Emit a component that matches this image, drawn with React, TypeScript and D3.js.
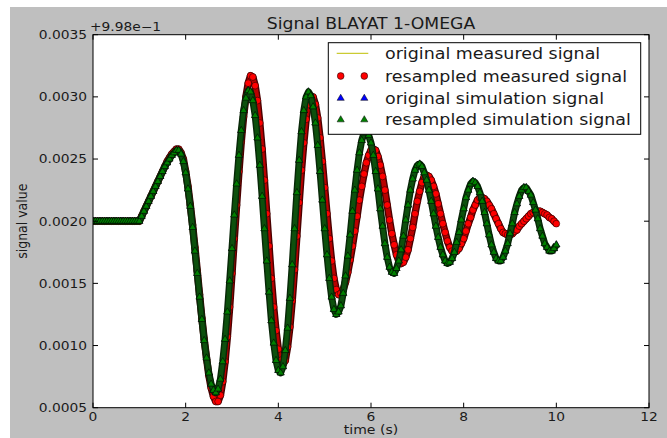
import * as d3 from 'd3';

// resampling grid of the signals (s)
const T_START = 0;
const T_STEP = 0.05;

// signal value minus offset 0.998, in units of 1e-5
const measuredE5 = [
  200, 200, 200, 200, 200, 200, 200, 200, 200, 200, 200, 200, 200, 200, 200, 200, 200, 200, 200, 200, 200,
  204, 208, 212, 216, 220, 224, 228, 232, 236, 240, 244, 248, 251, 254, 256, 258, 258,
  255, 250, 240, 228, 213, 197, 179, 160, 141, 122, 105, 90, 76, 66, 59, 55,
  55, 60, 71, 87, 107, 131, 158, 186, 213, 240, 264, 284, 300, 311, 317,
  316, 309, 297, 279, 258, 233, 206, 180, 154, 131, 112, 97, 88, 85,
  88, 99, 115, 136, 161, 188, 215, 241, 263, 282, 294, 300,
  300, 294, 283, 267, 248, 227, 206, 186, 168, 154, 145, 141,
  142, 145, 151, 159, 169, 180, 192, 204, 217, 228, 238, 247, 253, 257, 258,
  257, 252, 245, 236, 225, 213, 201, 190, 181, 173, 168, 166,
  167, 171, 177, 186, 195, 206, 216, 224, 231, 236, 237,
  236, 233, 228, 222, 214, 206, 198, 191, 184, 179, 176, 175,
  176, 178, 182, 186, 192, 198, 203, 209, 213, 217, 219, 219,
  218, 216, 213, 210, 206, 202, 198, 194, 191, 190, 189,
  189, 190, 192, 193, 196, 198, 200, 202, 204, 206, 207, 208, 208,
  208, 207, 206, 205, 203, 202, 200, 198,
];

const simulationE5 = [
  200, 200, 200, 200, 200, 200, 200, 200, 200, 200, 200, 200, 200, 200, 200, 200, 200, 200, 200, 200, 200,
  204, 208, 212, 216, 220, 224, 228, 232, 236, 240, 244, 247, 250, 253, 255, 257, 257,
  254, 248, 239, 226, 212, 195, 176, 158, 139, 121, 104, 90, 78, 69, 64, 62,
  65, 73, 87, 105, 127, 152, 178, 205, 230, 253, 273, 289, 299, 305,
  304, 297, 285, 267, 245, 220, 194, 168, 143, 120, 102, 88, 80,
  78, 83, 96, 114, 138, 165, 194, 223, 249, 272, 289, 300, 304,
  301, 292, 279, 261, 240, 217, 194, 173, 154, 139, 129, 125,
  127, 132, 142, 156, 172, 189, 208, 225, 241, 255, 265, 271,
  272, 269, 263, 253, 240, 226, 210, 196, 182, 171, 163, 159,
  158, 162, 168, 177, 188, 201, 213, 225, 234, 241, 245,
  246, 244, 239, 233, 225, 216, 206, 196, 187, 179, 173, 168, 166,
  167, 170, 175, 183, 191, 201, 210, 219, 225, 230, 232,
  231, 228, 223, 216, 207, 198, 189, 181, 175, 170, 168,
  168, 171, 176, 182, 190, 198, 207, 214, 220, 225, 227,
  227, 224, 221, 215, 209, 202, 194, 188, 182, 179, 176, 176, 178, 181,
];

const measured = measuredE5.map((v) => v / 1e5);
const simulation = simulationE5.map((v) => v / 1e5);
const time = measured.map((_, i) => T_START + i * T_STEP);

const xTicks = [0, 2, 4, 6, 8, 10, 12];
const yTicks = [0.0005, 0.001, 0.0015, 0.002, 0.0025, 0.003, 0.0035];
const yTickLabels = ['0.0005', '0.0010', '0.0015', '0.0020', '0.0025', '0.0030', '0.0035'];
const legendLabels = [
  'original measured signal',
  'resampled measured signal',
  'original simulation signal',
  'resampled simulation signal',
];

const W = 667;
const H = 438;
const SX = 1.15; // picture is stretched horizontally
const FONT = 'DejaVu Sans, sans-serif';
const TXT = '#1a1a1a';

export default function App() {
  const x = d3.scaleLinear().domain([0, 12]).range([93, 649]);
  const y = d3.scaleLinear().domain([0.0005, 0.0035]).range([407.7, 34.7]);
  const [x0, x1] = x.range();
  const [y0, y1] = y.range();

  const line = d3
    .line<number>()
    .x((_, i) => x(time[i]))
    .y((d) => y(d));
  const tri = d3.symbol().type(d3.symbolTriangle).size(22)() ?? '';

  const txt = (tx: number, ty: number, extra = '') => `translate(${tx},${ty}) scale(${SX},1)${extra}`;

  // legend
  const lg = { x: 328.3, y: 42.7, w: 312.4, h: 91.6 };
  const rowY = [53.3, 76, 98.3, 119.8];
  const h1 = 340.7;
  const h2 = 364.3;

  return (
    <svg width={W} height={H} style={{ position: 'absolute', left: 0, top: 0 }} fontFamily={FONT}>
      <defs>
        <clipPath id="plot">
          <rect x={x0} y={y1} width={x1 - x0} height={y0 - y1} />
        </clipPath>
      </defs>
      <rect x={0} y={0} width={W} height={H} fill="#fff" />
      <rect x={10} y={7} width={W - 10} height={H - 7} fill="#bfbfbf" />
      <rect x={x0} y={y1} width={x1 - x0} height={y0 - y1} fill="#fff" />

      <g clipPath="url(#plot)">
        {/* original measured signal */}
        <path d={line(measured) ?? ''} fill="none" stroke="#bfbf00" strokeWidth={1} />
        {/* resampled measured signal */}
        <path d={line(measured) ?? ''} fill="none" stroke="#4a0000" strokeWidth={7.4} strokeLinejoin="round" />
        <path d={line(measured) ?? ''} fill="none" stroke="#b80000" strokeWidth={4.6} strokeLinejoin="round" />
        {measured.map((v, i) => (
          <circle key={'m' + i} cx={x(time[i])} cy={y(v)} r={3.4} fill="#ff0000" stroke="#000" strokeWidth={0.5} />
        ))}
        {/* original simulation signal */}
        {simulation.map((v, i) => (
          <path key={'o' + i} d={tri} transform={`translate(${x(time[i])},${y(v)})`} fill="#0000ff" stroke="#000" strokeWidth={0.5} />
        ))}
        {/* resampled simulation signal */}
        <path d={line(simulation) ?? ''} fill="none" stroke="#082808" strokeWidth={7} strokeLinejoin="round" />
        <path d={line(simulation) ?? ''} fill="none" stroke="#0d500d" strokeWidth={4.2} strokeLinejoin="round" />
        {simulation.map((v, i) => (
          <path key={'s' + i} d={tri} transform={`translate(${x(time[i])},${y(v)})`} fill="#008000" stroke="#000" strokeWidth={0.6} />
        ))}
      </g>

      {/* ticks, inward on all sides */}
      {xTicks.map((t) => (
        <g key={'xt' + t}>
          <line x1={x(t)} x2={x(t)} y1={y0} y2={y0 - 5} stroke="#000" />
          <line x1={x(t)} x2={x(t)} y1={y1} y2={y1 + 5} stroke="#000" />
          <text transform={txt(x(t), 420.5)} textAnchor="middle" fontSize={12} fill={TXT}>
            {t}
          </text>
        </g>
      ))}
      {yTicks.map((t, i) => (
        <g key={'yt' + t}>
          <line x1={x0} x2={x0 + 5} y1={y(t)} y2={y(t)} stroke="#000" />
          <line x1={x1} x2={x1 - 5} y1={y(t)} y2={y(t)} stroke="#000" />
          <text transform={txt(87, y(t) + 4.3)} textAnchor="end" fontSize={12} fill={TXT}>
            {yTickLabels[i]}
          </text>
        </g>
      ))}
      <rect x={x0} y={y1} width={x1 - x0} height={y0 - y1} fill="none" stroke="#000" strokeWidth={1} />

      <text transform={txt(90, 30.5)} fontSize={12} fill={TXT}>
        +9.98e−1
      </text>
      <text transform={txt((x0 + x1) / 2, 29.3)} textAnchor="middle" fontSize={15} fill={TXT}>
        Signal BLAYAT 1-OMEGA
      </text>
      <text transform={txt((x0 + x1) / 2, 433.5)} textAnchor="middle" fontSize={12.2} fill={TXT}>
        time (s)
      </text>
      <text transform={txt(27, (y0 + y1) / 2, ' rotate(-90)')} textAnchor="middle" fontSize={12.5} fill={TXT}>
        signal value
      </text>

      {/* legend */}
      <rect x={lg.x} y={lg.y} width={lg.w} height={lg.h} fill="#fff" stroke="#000" strokeWidth={1} />
      <line x1={336.7} x2={368.3} y1={rowY[0]} y2={rowY[0]} stroke="#bfbf00" strokeWidth={1} />
      {[h1, h2].map((hx) => (
        <g key={'lh' + hx}>
          <circle cx={hx} cy={rowY[1]} r={3.4} fill="#ff0000" stroke="#000" strokeWidth={0.5} />
          <path d={tri} transform={`translate(${hx},${rowY[2]})`} fill="#0000ff" stroke="#000" strokeWidth={0.5} />
          <path d={tri} transform={`translate(${hx},${rowY[3]})`} fill="#008000" stroke="#000" strokeWidth={0.5} />
        </g>
      ))}
      {legendLabels.map((label, i) => (
        <text key={label} transform={txt(385, rowY[i] + 5.5)} fontSize={15.2} fill={TXT}>
          {label}
        </text>
      ))}
    </svg>
  );
}
